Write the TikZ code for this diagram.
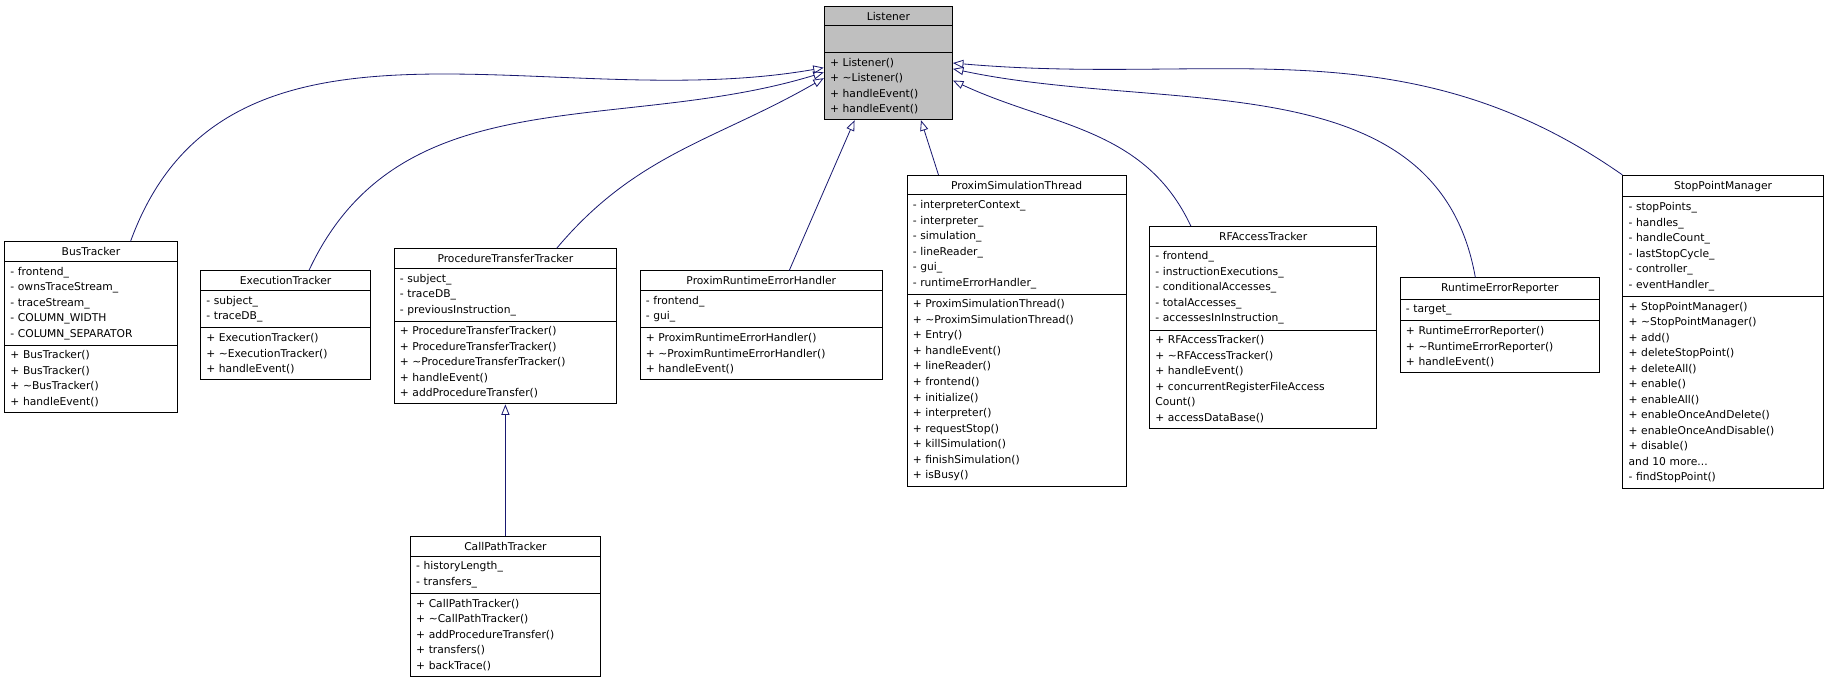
\documentclass[tikz,border=0pt]{standalone}
\usepackage{fontspec}
\setmainfont{DejaVu Sans}
\usetikzlibrary{shapes.multipart,arrows.meta}
\definecolor{edgeblue}{RGB}{25,25,112}
\definecolor{basegray}{RGB}{191,191,191}
\tikzset{
  cls/.style={rectangle split, rectangle split parts=3, draw, fill=white, line width=0.8pt,
    text width=#1-10pt, inner xsep=5pt, inner ysep=4.4pt, anchor=north,
    font=\fontsize{9.2}{13.3}\selectfont},
  inherit/.style={draw=edgeblue, line width=0.7pt, -{Triangle[open,length=9pt,width=7pt]}}
}
\begin{document}
\begin{tikzpicture}[x=1pt,y=-1pt]
  \useasboundingbox (0,0) rectangle (1568,593);
  % base class
  \node[cls=110pt, fill=basegray] (listener) at (762,5)
    {\centering Listener\par
     \nodepart{second}\strut
     \nodepart{third}+ Listener()\\+ \textasciitilde Listener()\\+ handleEvent()\\+ handleEvent()};
  % derived classes
  \node[cls=148pt] (bus) at (78,207)
    {\centering BusTracker\par
     \nodepart{second}- frontend\_\\- ownsTraceStream\_\\- traceStream\_\\- COLUMN\_WIDTH\\- COLUMN\_SEPARATOR
     \nodepart{third}+ BusTracker()\\+ BusTracker()\\+ \textasciitilde BusTracker()\\+ handleEvent()};
  \node[cls=146pt] (exec) at (245,232)
    {\centering ExecutionTracker\par
     \nodepart{second}- subject\_\\- traceDB\_
     \nodepart{third}+ ExecutionTracker()\\+ \textasciitilde ExecutionTracker()\\+ handleEvent()};
  \node[cls=191pt] (ptt) at (433.5,213)
    {\centering ProcedureTransferTracker\par
     \nodepart{second}- subject\_\\- traceDB\_\\- previousInstruction\_
     \nodepart{third}+ ProcedureTransferTracker()\\+ ProcedureTransferTracker()\\+ \textasciitilde ProcedureTransferTracker()\\+ handleEvent()\\+ addProcedureTransfer()};
  \node[cls=208pt] (preh) at (653,232)
    {\centering ProximRuntimeErrorHandler\par
     \nodepart{second}- frontend\_\\- gui\_
     \nodepart{third}+ ProximRuntimeErrorHandler()\\+ \textasciitilde ProximRuntimeErrorHandler()\\+ handleEvent()};
  \node[cls=188pt] (pst) at (872,150)
    {\centering ProximSimulationThread\par
     \nodepart{second}- interpreterContext\_\\- interpreter\_\\- simulation\_\\- lineReader\_\\- gui\_\\- runtimeErrorHandler\_
     \nodepart{third}+ ProximSimulationThread()\\+ \textasciitilde ProximSimulationThread()\\+ Entry()\\+ handleEvent()\\+ lineReader()\\+ frontend()\\+ initialize()\\+ interpreter()\\+ requestStop()\\+ killSimulation()\\+ finishSimulation()\\+ isBusy()};
  \node[cls=195pt] (rfa) at (1083.5,194)
    {\centering RFAccessTracker\par
     \nodepart{second}- frontend\_\\- instructionExecutions\_\\- conditionalAccesses\_\\- totalAccesses\_\\- accessesInInstruction\_
     \nodepart{third}+ RFAccessTracker()\\+ \textasciitilde RFAccessTracker()\\+ handleEvent()\\+ concurrentRegisterFileAccess\\Count()\\+ accessDataBase()};
  \node[cls=171pt] (rer) at (1286.5,238)
    {\centering RuntimeErrorReporter\par
     \nodepart{second}- target\_
     \nodepart{third}+ RuntimeErrorReporter()\\+ \textasciitilde RuntimeErrorReporter()\\+ handleEvent()};
  \node[cls=172pt] (spm) at (1478,150)
    {\centering StopPointManager\par
     \nodepart{second}- stopPoints\_\\- handles\_\\- handleCount\_\\- lastStopCycle\_\\- controller\_\\- eventHandler\_
     \nodepart{third}+ StopPointManager()\\+ \textasciitilde StopPointManager()\\+ add()\\+ deleteStopPoint()\\+ deleteAll()\\+ enable()\\+ enableAll()\\+ enableOnceAndDelete()\\+ enableOnceAndDisable()\\+ disable()\\and 10 more...\\- findStopPoint()};
  \node[cls=163pt] (cpt) at (433.5,460)
    {\centering CallPathTracker\par
     \nodepart{second}- historyLength\_\\- transfers\_
     \nodepart{third}+ CallPathTracker()\\+ \textasciitilde CallPathTracker()\\+ addProcedureTransfer()\\+ transfers()\\+ backTrace()};
  % inheritance
  \draw[inherit] ([xshift=34pt]bus.north) to[out=70,in=190] ([yshift=-4pt]listener.west);
  \draw[inherit] ([xshift=20pt]exec.north) to[out=65,in=197] ([yshift=-8pt]listener.west);
  \draw[inherit] ([xshift=44pt]ptt.north) to[out=50,in=210] ([yshift=-13pt]listener.west);
  \draw[inherit] ([xshift=24pt]preh.north) -- ([xshift=-29pt]listener.south);
  \draw[inherit] ([xshift=-67pt]pst.north) -- ([xshift=28pt]listener.south);
  \draw[inherit] ([xshift=-62pt]rfa.north) to[out=115,in=-25] ([yshift=-15pt]listener.east);
  \draw[inherit] ([xshift=-21pt]rer.north) to[out=100,in=-12] ([yshift=-5pt]listener.east);
  \draw[inherit] (spm.north west) to[out=145,in=-5] (listener.east);
  \draw[inherit] (cpt.north) -- (ptt.south);
\end{tikzpicture}
\end{document}
